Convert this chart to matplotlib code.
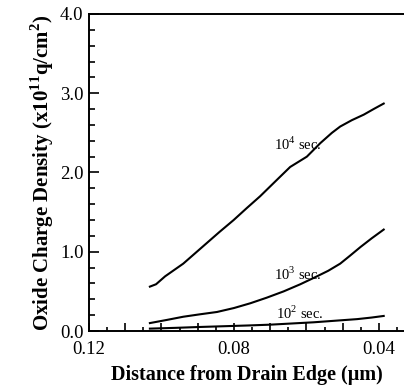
import matplotlib
matplotlib.use('Agg')
import matplotlib.pyplot as plt
from matplotlib.ticker import MultipleLocator, FuncFormatter

plt.rcParams['font.family'] = ['Liberation Serif', 'DejaVu Serif']
plt.rcParams['mathtext.fontset'] = 'custom'
plt.rcParams['mathtext.rm'] = 'Liberation Serif'
plt.rcParams['mathtext.bf'] = 'Liberation Serif:bold'

# distance from drain edge (um) and oxide charge density (1e11 q/cm^2)
x_1e4 = [0.1032, 0.1015, 0.0990, 0.0940, 0.0875, 0.0840, 0.0801, 0.0765, 0.0728,
         0.0681, 0.0645, 0.0599, 0.0562, 0.0530, 0.0507, 0.0475, 0.0442, 0.0415, 0.0387]
y_1e4 = [0.56, 0.59, 0.69, 0.85, 1.11, 1.25, 1.40, 1.55, 1.70,
         1.91, 2.07, 2.20, 2.37, 2.50, 2.58, 2.66, 2.73, 2.80, 2.87]

x_1e3 = [0.1032, 0.0985, 0.0940, 0.0895, 0.0847, 0.0800, 0.0755, 0.0710, 0.0663,
         0.0617, 0.0571, 0.0540, 0.0507, 0.0480, 0.0451, 0.0420, 0.0387]
y_1e3 = [0.10, 0.14, 0.18, 0.21, 0.24, 0.29, 0.35, 0.42, 0.50,
         0.59, 0.69, 0.76, 0.85, 0.95, 1.06, 1.17, 1.28]

x_1e2 = [0.1032, 0.0960, 0.0900, 0.0830, 0.0760, 0.0700, 0.0640, 0.0580, 0.0520, 0.0460, 0.0420, 0.0387]
y_1e2 = [0.03, 0.04, 0.05, 0.06, 0.07, 0.08, 0.095, 0.11, 0.13, 0.15, 0.17, 0.19]

fig = plt.figure(figsize=(4.04, 3.92), dpi=100)
ax = fig.add_axes([0.2203, 0.1556, 0.7797, 0.8087])

lw = 1.5
ax.plot(x_1e4, y_1e4, color='black', lw=lw)
ax.plot(x_1e3, y_1e3, color='black', lw=lw)
ax.plot(x_1e2, y_1e2, color='black', lw=lw)

ax.text(0.0558, 2.36, r'$10^4$ sec.', fontsize=10.5, ha='right', va='center')
ax.text(0.0558, 0.72, r'$10^3$ sec.', fontsize=10.5, ha='right', va='center')
ax.text(0.0553, 0.22, r'$10^2$ sec.', fontsize=10.5, ha='right', va='center')

ax.set_xlim(0.12, 0.0331)
ax.set_ylim(0.0, 4.0)

ax.xaxis.set_major_locator(MultipleLocator(0.01))
ax.xaxis.set_minor_locator(MultipleLocator(0.005))
ax.xaxis.set_major_formatter(FuncFormatter(
    lambda v, p: f'{v:.2f}' if round(v * 100) % 4 == 0 else ''))
ax.yaxis.set_major_locator(MultipleLocator(1.0))
ax.yaxis.set_minor_locator(MultipleLocator(0.2))
ax.yaxis.set_major_formatter(FuncFormatter(lambda v, p: f'{v:.1f}'))

ax.tick_params(which='both', direction='in', width=1.2, labelsize=13.5)
ax.tick_params(axis='x', which='major', length=6, pad=7)
ax.tick_params(axis='x', which='minor', length=3)
ax.tick_params(axis='y', which='major', length=7, pad=4)
ax.tick_params(axis='y', which='minor', length=4)

for side in ['left', 'top', 'bottom']:
    ax.spines[side].set_linewidth(1.4)
ax.spines['right'].set_visible(False)

ax.set_xlabel('Distance from Drain Edge (\u03bcm)', fontsize=14.5, fontweight='bold', labelpad=5)
ax.set_ylabel(r'Oxide Charge Density (x10$^{\mathbf{11}}$q/cm$^{\mathbf{2}}$)',
              fontsize=15, fontweight='bold', labelpad=3)

fig.savefig('out.png', dpi=100)
